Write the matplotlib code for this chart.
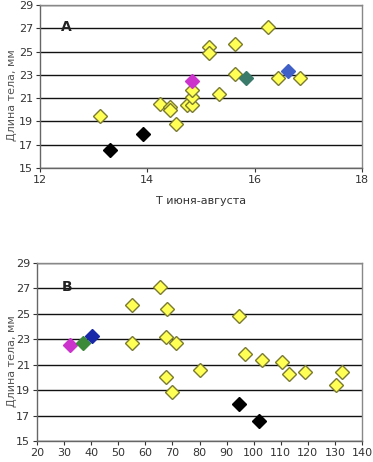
import matplotlib.pyplot as plt
import numpy as np

# Panel A: temperature June-August vs body length
a_yellow_x = [13.11, 14.23, 14.43, 14.43, 14.54, 14.74, 14.83, 14.83, 14.83,
              15.14, 15.14, 15.33, 15.64, 15.64, 16.24, 16.44, 16.85]
a_yellow_y = [19.43, 20.51, 20.23, 19.94, 18.8, 20.43, 20.43, 21.09, 21.71,
              25.37, 24.86, 21.37, 25.66, 23.11, 27.09, 22.71, 22.71]
a_black_x = [13.31, 13.91]
a_black_y = [16.51, 17.89]
a_magenta = (14.83, 22.51)
a_teal = (15.83, 22.71)
a_blue = (16.63, 23.29)

# Panel B
b_yellow_x = [55.1, 55.1, 65.4, 68.1, 67.5, 71.2, 67.8, 69.7, 80.0,
              94.7, 96.8, 103.1, 110.4, 113.2, 119.0, 130.5, 132.6]
b_yellow_y = [25.7, 22.72, 27.12, 25.42, 23.19, 22.72, 20.0, 18.85, 20.58,
              24.87, 21.88, 21.39, 21.2, 20.26, 20.45, 19.4, 20.45]
b_black_x = [94.6, 102.1]
b_black_y = [17.9, 16.6]
b_magenta = (32.3, 22.54)
b_green = (37.0, 22.72)
b_blue = (40.2, 23.25)

y_ticks = [15, 17, 19, 21, 23, 25, 27, 29]
a_x_ticks = [12, 14, 16, 18]
b_x_ticks = list(range(20, 141, 10))

W, H = 373, 462
fig = plt.figure(figsize=(W / 100, H / 100), dpi=100)

def box(l, t, r, b):
    return [l / W, 1 - b / H, (r - l) / W, (b - t) / H]

ax1 = fig.add_axes(box(40, 5, 362, 168))
ax2 = fig.add_axes(box(37, 263, 362, 441))

txt = '#333333'

def style(ax, xt, xlim, left_px):
    ax.set_xlim(*xlim)
    ax.set_ylim(15, 29)
    ax.set_yticks(y_ticks)
    ax.set_xticks(xt)
    ax.set_axisbelow(True)
    ax.grid(axis='y', color='#111111', linewidth=1.0)
    for s in ax.spines.values():
        s.set_color('#888888')
        s.set_linewidth(1.0)
    ax.spines['left'].set_color('#666666')
    ax.spines['bottom'].set_color('#666666')
    ax.tick_params(labelsize=8, colors=txt, length=3, width=0.8, pad=2)
    ax.set_ylabel('Длина тела, мм', fontsize=8, color='#555555')
    w_px = ax.get_position().width * W
    ax.yaxis.set_label_coords(-(left_px - 17) / w_px, 0.45)

ms = 7
ed = '#7a7a30'

style(ax1, a_x_ticks, (12, 18), 40)
ax1.plot(a_yellow_x, a_yellow_y, 'D', ms=ms, mfc='#ffff55', mec=ed, mew=1.0, ls='none')
ax1.plot(a_black_x, a_black_y, 'D', ms=ms, mfc='black', mec='black', ls='none')
ax1.plot(*a_magenta, 'D', ms=ms, mfc='#cc33cc', mec='#cc33cc')
ax1.plot(*a_teal, 'D', ms=ms, mfc='#3a7a6a', mec='#3a7a6a')
ax1.plot(*a_blue, 'D', ms=ms, mfc='#4060c8', mec='#4060c8')
ax1.set_xlabel('Т июня-августа', fontsize=8, color=txt, labelpad=8)
ax1.text(0.065, 0.84, 'A', transform=ax1.transAxes, fontsize=10, fontweight='bold', color='#222222')

style(ax2, b_x_ticks, (20, 140), 37)
ax2.plot(b_yellow_x, b_yellow_y, 'D', ms=ms, mfc='#ffff55', mec=ed, mew=1.0, ls='none')
ax2.plot(b_black_x, b_black_y, 'D', ms=ms, mfc='black', mec='black', ls='none')
ax2.plot(*b_magenta, 'D', ms=ms, mfc='#cc33cc', mec='#cc33cc')
ax2.plot(*b_green, 'D', ms=ms, mfc='#3a8a3a', mec='#3a8a3a')
ax2.plot(*b_blue, 'D', ms=ms, mfc='#1828a8', mec='#1828a8')
ax2.text(0.075, 0.84, 'B', transform=ax2.transAxes, fontsize=10, fontweight='bold', color='#222222')

fig.savefig('out.png', dpi=100)
